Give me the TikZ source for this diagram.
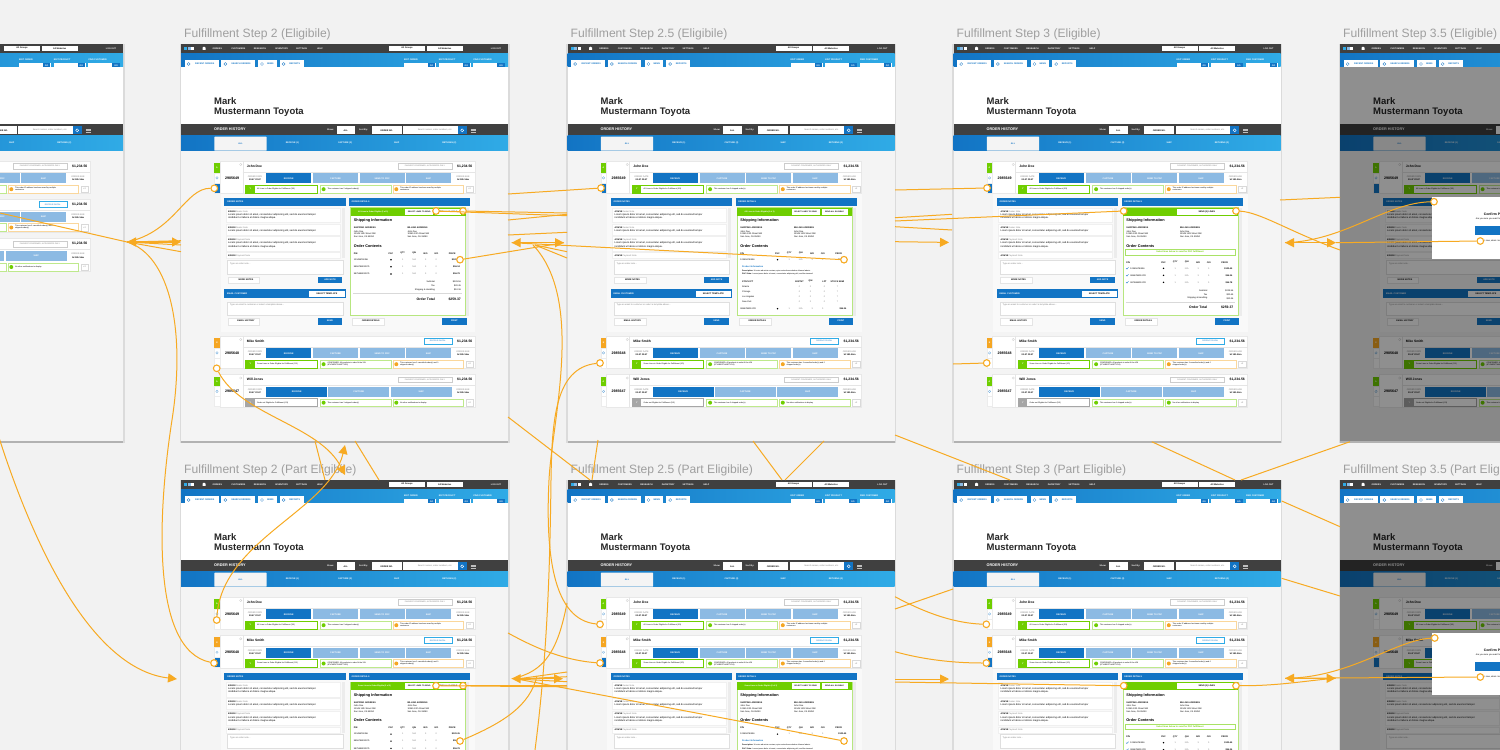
\documentclass[tikz,border=0pt]{standalone}
\usepackage{fontspec}
\setmainfont{Liberation Sans}
\usetikzlibrary{arrows.meta}

\definecolor{bluedk}{HTML}{1274C4}
\definecolor{bluelt}{HTML}{30ABE6}
\definecolor{bluesoft}{HTML}{8CBAE3}
\definecolor{barblack}{HTML}{404040}
\definecolor{bodygray}{HTML}{F4F4F4}
\definecolor{pagegray}{HTML}{F2F2F2}
\definecolor{panelgray}{HTML}{F9F9F9}
\definecolor{grn}{HTML}{6FCE00}
\definecolor{org}{HTML}{F5A623}
\definecolor{lnkor}{HTML}{F7AA22}

\newcommand{\fa}{\fontsize{2.2}{2.9}\selectfont}
\newcommand{\fb}{\fontsize{3.4}{4}\selectfont}
\newcommand{\fc}{\fontsize{3.8}{5}\selectfont}
\newcommand{\fd}{\fontsize{1.9}{2}\selectfont}
\newcommand{\lorema}{Lorem ipsum dolor sit amet, consectetur adipiscing elit, sed do eiusmod tempor}
\newcommand{\loremb}{incididunt ut labore et dolore magna aliqua.}

\newcommand{\btn}[7]{\node[btnb,#6,minimum width=#4pt,minimum height=#5pt,anchor=north west] (#1) at (#2,#3) {#7};}

\newcommand{\appframe}{%
  \fill[gray!28] (-1.5,-.5) rectangle (328.5,398.5);
  \fill[gray!60] (0,397) rectangle (327,398.5);
  \fill[bodygray] (0,0) rectangle (327,397);
  \btn{top}{0}{0}{327}{9.5}{fill=barblack}{}
  \foreach \x/\c [count=\i] in {3/bluelt,6.6/bluesoft,10.2/white}{
    \btn{lg\i}{\x}{3}{3.2}{3}{fill=\c}{}
  }
  \fill[white] (21.5,5.8) -- (21.5,3.6) -- (23,2.6) -- (24.5,3.6) -- (24.5,5.8) -- cycle;
  \foreach \x/\n [count=\i] in {36.3/ORDERS,57.3/CUSTOMERS,79/RESEARCH,100.7/INVENTORY,120.7/SETTINGS,139/HELP}
    \node[tc,white] (nav\i) at (\x,4.6) {\bfseries\n};
  \btn{grp}{208}{1.7}{36}{5.4}{fill=white}{\bfseries All Groups}
  \btn{web}{245.7}{1.7}{36}{5.4}{fill=white}{\bfseries All Websites}
  \node[tc,white] (out) at (315,4.6) {\bfseries LOG OUT};
  \btn{bar}{0}{9.5}{327}{13}{left color=bluedk,right color=bluelt}{}
  \foreach \x/\w/\n [count=\i] in {3.7/34/RECENT ORDERS,40.3/33.4/SEARCH ORDERS,77/18.7/NEWS,98.7/24/REPORTS}{
    \btn{qk\i}{\x}{16}{\w}{8}{fill=white,text=bluedk}{\hspace*{6pt}\bfseries\n}
    \draw[bluedk,line width=.3pt] (\x+4,20) circle (1.5);
  }
  \foreach \x/\n [count=\i] in {223/EDIT ORDER,257.7/EDIT PRODUCT,292.3/FIND CUSTOMER}{
    \node[tw,white] (fl\i) at (\x,15.6) {\bfseries\n};
    \btn{fi\i}{\x}{18.7}{32}{5.4}{fill=white}{}
    \btn{fg\i}{\x+24}{19.3}{7.4}{4.2}{fill=bluedk,text=white}{\bfseries GO}
  }
  \fill[white] (0,22.5) rectangle (327,80);
  \node[tw,text=black!85,font=\fontsize{9.5}{10}\selectfont] (dealer) at (33,62.7) {\bfseries Mark\\\bfseries Mustermann Toyota};
  \btn{hist}{0}{80}{327}{11.5}{fill=barblack}{}
  \node[tw,white,font=\fontsize{3.8}{4}\selectfont] (histl) at (33,85.5) {\bfseries ORDER HISTORY};
  \node[tw,white] (shw) at (146,85.5) {\bfseries Show:};
  \btn{shwb}{155.7}{82.3}{18.3}{8}{fill=white}{\bfseries ALL}
  \node[tw,white] (srt) at (178,85.5) {\bfseries Sort By:};
  \btn{srtb}{190.7}{82.3}{30}{8}{fill=white}{\bfseries ORDER NO.}
  \btn{srch}{222.3}{82.3}{63.4}{8}{fill=white,text=gray}{Search names, order numbers, etc.}
  \btn{srgo}{276.7}{82.3}{9}{8}{fill=bluedk}{}
  \draw[white,line width=.4pt] (281.2,86.3) circle (1.5);
  \foreach \y in {84.8,86.3,87.8}
    \draw[gray!50,line width=.5pt] (289.5,\y) -- (294.5,\y);
  \btn{tabs}{0}{91.5}{327}{15}{left color=bluedk,right color=bluelt}{}
  \btn{taball}{33.3}{92.7}{52.4}{14}{fill=bodygray,text=bluedk,rounded corners=.6pt}{\bfseries ALL}
  \foreach \x/\n [count=\i] in {111.3/RECEIVE (1),164/CAPTURE (2),215.7/SHIP,268.3/RETURNS (2)}
    \node[tc,white] (tb\i) at (\x,98.6) {\bfseries\n};
}

\newcommand{\screen}[5]{%
  \begin{scope}[shift={(#2,#3)},name prefix=#1-]
    \appframe
    \node[steplab] (lab) at (3,-10) {#4};
    #5
  \end{scope}
}

\newcommand{\rowbase}[7]{%
  \btn{#1card}{38.7}{0}{255.3}{32.8}{fill=white,draw=gray!18,line width=.3pt}{}
  \btn{#1tabA}{33.3}{2.3}{5.4}{10}{fill=#2,text=white}{\bfseries #3}
  \btn{#1tabB}{33.3}{12.3}{5.4}{10}{fill=white,draw=gray!15,line width=.2pt}{}
  \draw[bluedk!60,line width=.3pt] (36,17.2) circle (1.2);
  \btn{#1tabC}{33.3}{22.3}{5.4}{10}{fill=#6,draw=gray!15,line width=.2pt}{}
  \node[tc,font=\fontsize{3.6}{4}\selectfont] (#1num) at (51.2,17.3) {\bfseries #4};
  \draw[gray!40,line width=.3pt] (59.7,3.8) circle (1.2);
  \draw[gray!20,line width=.3pt] (61.7,0) -- (61.7,32.8) (61.7,11) -- (294,11);
  \node[tw,font=\fontsize{3.3}{4}\selectfont] (#1name) at (65.7,5.4) {\bfseries #5};
  \node[te,font=\fb] (#1total) at (291.5,5.4) {\bfseries\$1,234.56};
  \node[tc,text=gray] (#1dl) at (74,15.6) {ORDER DATE};
  \node[tc] (#1dv) at (74,18.8) {\bfseries 00:47 22:47};
  \node[tc,text=gray] (#1al) at (282,15.6) {ORDER AGE};
  \node[tc] (#1av) at (282,18.8) {\bfseries 1d 18h 56m};
  \btn{#1more}{284.7}{25.2}{7.6}{6.6}{fill=white,draw=gray!30,line width=.3pt,text=gray}{+2}
  #7
}

\newcommand{\fourbtn}[1]{%
  \foreach \x/\n/\c [count=\i] in {85.3/RECEIVE/bluedk,132/CAPTURE/bluesoft,178.7/SEND TO PDC/bluesoft,225/SHIP/bluesoft}{
    \btn{#1b\i}{\x}{12.6}{45}{10}{fill=\c,text=white}{\bfseries\n}
  }
}

\newcommand{\leadbox}[3]{%
  \btn{#1lead}{64.7}{24.6}{71.6}{7.7}{fill=white,draw=#2,line width=.7pt}{}
  \btn{#1icon}{64.7}{24.6}{9.2}{7.7}{fill=#2,text=white}{\bfseries Y}
  \node[tw,font=\fd] (#1lt) at (76,28.5) {#3};
}

\newcommand{\msgbox}[5]{%
  \btn{#1box}{#2}{24.6}{#3}{7.7}{fill=white,draw=#4!45,line width=.4pt}{}
  \node[dotm,fill=#4] (#1dot) at (#2+3.6,28.5) {};
  \node[tw,font=\fd] (#1txt) at (#2+7.3,28.5) {#5};
}

\newcommand{\johnrow}[3]{%
  \begin{scope}[shift={(0,#2)}]
    \rowbase{#1}{grn}{A}{2985649}{John Doe}{#3}{%
      \btn{#1chip}{217}{2.6}{53.7}{5.6}{fill=white,draw=gray!40,line width=.3pt,text=gray,font=\fd}{PAYMENT CONFIRMED, AUTHORIZED ONLY}
      \fourbtn{#1}
      \leadbox{#1}{grn}{All Lines in Order Eligible for Fulfillment (3/3)}
      \msgbox{#1m}{139}{70.7}{grn}{This customer has 2 shipped order(s)}
      \msgbox{#1n}{211.7}{70.6}{org}{This order IP address has been used by multiple\\customers.}
    }
  \end{scope}
}

\newcommand{\mikerow}[3]{%
  \begin{scope}[shift={(0,#2)}]
    \rowbase{#1}{org}{E}{2985648}{Mike Smith}{#3}{%
      \btn{#1chip}{243}{2.6}{27.7}{5.6}{fill=white,draw=bluelt,line width=.4pt,text=bluedk,font=\fd}{RECEIVE PAYPAL}
      \fourbtn{#1}
      \leadbox{#1}{grn}{Some Lines in Order Eligible for Fulfillment (2/3)}
      \msgbox{#1m}{139}{70.7}{grn}{CONFIRMED: All products in order fit the VIN\\(87VNBDF7HA8F7YD6)}
      \msgbox{#1n}{211.7}{70.6}{org}{This customer has 1 cancelled order(s) and 0\\shipped order(s)}
    }
  \end{scope}
}

\newcommand{\willrow}[2]{%
  \begin{scope}[shift={(0,#2)}]
    \rowbase{#1}{grn}{A}{2985647}{Will Jones}{white}{%
      \btn{#1chip}{217}{2.6}{53.7}{5.6}{fill=white,draw=gray!40,line width=.3pt,text=gray,font=\fd}{PAYMENT CONFIRMED, AUTHORIZED ONLY}
      \foreach \x/\n/\c [count=\i] in {85.3/RECEIVE/bluedk,147.3/CAPTURE/bluesoft,209.7/SHIP/bluesoft}{
        \btn{#1b\i}{\x}{12.6}{61}{10}{fill=\c,text=white}{\bfseries\n}
      }
      \leadbox{#1}{gray!70}{Order not Eligible for Fulfillment (0/3)}
      \msgbox{#1m}{139}{70.7}{grn}{This customer has 1 shipped order(s)}
      \msgbox{#1n}{211.7}{70.6}{grn}{No other notifications to display}
    }
  \end{scope}
}

\newcommand{\linerow}[4]{%
  \node[tw] (#1pn) at (172.7,#2) {#3};
  \node[dotm,fill=black,minimum size=1.6pt] (#1psc) at (210,#2) {};
  \foreach \x/\n [count=\i] in {221.7/1,233.3/N{/}A,244.7/3,255.3/0}
    \node[tc,text=gray] (#1v\i) at (\x,#2) {\n};
  \node[te] (#1pr) at (279,#2) {\bfseries #4};
}

\newcommand{\linehead}[1]{%
  \node[tw] (hpn) at (172.7,#1) {\bfseries P/N};
  \foreach \x/\n [count=\i] in {210/PSC,221.7/QTY,233.3/{Q/H},244.7/{B/O},255.3/{O/O},271.3/PRICE}
    \node[tc] (hc\i) at (\x,#1) {\bfseries\n};
}

\newcommand{\ordertotals}[1]{%
  \foreach \d/\n/\v [count=\i] in {0/Subtotal/\$229.56,4/Tax/\$20.45,8/Shipping \& Handling/\$10.36}{
    \node[te] (sl\i) at (254,#1+\d) {\n};
    \node[te] (sv\i) at (280,#1+\d) {\v};
  }
  \draw[gray!30,line width=.3pt] (172,#1+11.6) -- (281,#1+11.6);
  \node[te,font=\fb] (otl) at (254,#1+17.4) {\bfseries Order Total};
  \node[te,font=\fb] (otv) at (280,#1+17.4) {\bfseries\$259.37};
}

\newcommand{\addresses}{%
  \node[tw,font=\fc] (ship) at (172.7,176.7) {\bfseries Shipping Information};
  \foreach \x/\n [count=\i] in {172.7/SHIPPING ADDRESS,226.3/BILLING ADDRESS}{
    \node[tw] (adh\i) at (\x,184) {\bfseries\n};
    \node[tw,anchor=north west] (adt\i) at (\x,186.3) {John Doe\\12345 13th Street NW\\San Jose, CA 95050};
  }
  \node[tw,font=\fc] (cont) at (172.7,201.7) {\bfseries Order Contents};
}

\newcommand{\orderpanel}[2]{%
  \btn{pan}{39.7}{150}{254.3}{137.7}{fill=panelgray}{}
  \btn{nth}{43.3}{154.3}{121.4}{7.7}{fill=bluedk}{}
  \node[tw,white] (ntl) at (46,158.2) {\bfseries ORDER NOTES};
  \btn{nts}{160.5}{163.7}{3.4}{50.6}{fill=gray!15}{}
  \foreach \y/\h/\k/\b [count=\i] in {163.7/14.6/Dealer Note/{\lorema\\\loremb},180/10.7/Dealer Note/{\lorema},192.3/14.4/Payment Note/{\lorema\\\loremb},208.3/6/Payment Note/{}}{
    \btn{nc\i}{45}{\y}{114}{\h}{fill=white,draw=gray!12,line width=.3pt}{}
    \node[tw] (nh\i) at (47,\y+3.6) {\bfseries 4/26/18 \mdseries\color{gray}\k};
    \node[tw,anchor=north west,font=\fontsize{2.5}{3.3}\selectfont] (nb\i) at (47,\y+5.4) {\b};
  }
  \btn{nin}{46.3}{216}{115.4}{14}{fill=white,draw=gray!25,line width=.3pt}{}
  \node[tw,text=gray] (nph) at (49,219.5) {Type an order note...};
  \btn{nmr}{46.7}{232.7}{31.6}{6.6}{fill=white,draw=gray!20,line width=.3pt}{\hspace*{5pt}\bfseries MORE NOTES}
  \btn{nad}{136.7}{232.7}{24.6}{6.6}{fill=bluedk,text=white}{\bfseries ADD NOTE}
  \btn{emh}{43.3}{245.3}{121.4}{9}{fill=bluedk}{}
  \node[tw,white] (eml) at (46,249.8) {\bfseries EMAIL CUSTOMER};
  \btn{emt}{128}{246.6}{35.6}{6.6}{fill=white}{\bfseries SELECT TEMPLATE}
  \btn{emi}{46.3}{257.7}{115.4}{13.3}{fill=white,draw=gray!25,line width=.3pt}{}
  \node[tw,text=gray] (emp) at (49,261.3) {Type an email to customer or select a template above...};
  \btn{emo}{46.7}{273.7}{31.6}{7}{fill=white,draw=gray!20,line width=.3pt}{\hspace*{5pt}\bfseries EMAIL HISTORY}
  \btn{ems}{136.7}{273.7}{24.6}{7}{fill=bluedk,text=white}{\bfseries SEND}
  \btn{dth}{168}{154.3}{121}{7.7}{fill=bluedk}{}
  \node[tw,white] (dtl) at (170.5,158.2) {\bfseries ORDER DETAILS};
  \btn{dts}{285}{163.7}{3.4}{108}{fill=gray!15}{}
  \btn{dbox}{169.7}{163.7}{115}{107.3}{fill=white,draw=grn!50,line width=.5pt}{}
  \btn{dgb}{169.7}{163.7}{115}{8}{fill=grn}{}
  \addresses
  \ifnum#1=3
    \btn{dsend}{223}{164.7}{60.5}{6}{fill=white}{\bfseries SEND (3) LINES}
    \btn{dsel}{171.5}{205.3}{110}{5.8}{fill=white,draw=grn!60,line width=.3pt,text=grn}{\bfseries Select lines below to send for PDC fulfillment}
    \linehead{218.3}
    \linerow{ra}{224.3}{\hspace*{4pt}12345678/456}{\$120.45}
    \linerow{rb}{231.3}{\hspace*{4pt}98567B4012CD}{\$56.34}
    \linerow{rc}{238.3}{\hspace*{4pt}98756B4012CD}{\$56.78}
    \ordertotals{246.3}
    \foreach \y in {224.3,231.3,238.3}
      \draw[bluedk,line width=.4pt] (172.6,\y) -- (173.4,\y+.8) -- (175,\y-1);
  \else
    \node[tw,white,font=\fd] (dgt) at (177,167.7) {\bfseries #2};
    \btn{dsl}{224}{164.7}{28.3}{6}{fill=white,font=\fd}{\bfseries SELECT LINES TO SEND}
    \btn{dsa}{254}{164.7}{26}{6}{fill=white,font=\fd}{\bfseries SEND ALL ELIGIBLE}
    \linehead{209.3}
    \linerow{ra}{215.7}{12345678/456}{\$120.45}
    \ifnum#1=1
      \linerow{rb}{222.7}{98567B4012CD}{\$56.34}
      \linerow{rc}{230}{98756B4012CD}{\$56.78}
      \ordertotals{237.7}
    \else
      \node[tw,text=bluedk] (pit) at (174.5,222.3) {\bfseries Product Information};
      \node[tw,font=\fd] (pid) at (174.5,226.7) {\bfseries Description: \mdseries Ut enim ad minim veniam, quis nostrud exercitation ullamco laboris};
      \node[tw,font=\fd] (pip) at (174.5,230.3) {\bfseries PAC State: \mdseries Lorem ipsum dolor sit amet, consectetur adipiscing elit, sed do eiusmod};
      \node[tw] (sth) at (174.5,237.3) {\bfseries STOCK PT};
      \foreach \x/\n [count=\i] in {232/{BO/TNT},243/{Q/H},257/LPT,270/STOCK SEMI}
        \node[tc] (shc\i) at (\x,237.3) {\bfseries\n};
      \foreach \y/\n [count=\i] in {242.7/Atlanta,247.7/Chicago,252.7/Los Angeles,257.7/New York}{
        \node[tw] (sr\i) at (174.5,\y) {\n};
        \foreach \x/\v [count=\j] in {232/0,243/2,257/0,270/7}
          \node[tc,text=gray] (sv\i\j) at (\x,\y) {\v};
      }
      \linerow{rb}{264.7}{98567B4012CD}{\$56.34}
    \fi
  \fi
  \btn{dod}{171.3}{273.7}{32}{7}{fill=white,draw=gray!20,line width=.3pt}{\hspace*{5pt}\bfseries ORDER DETAILS}
  \btn{dpr}{261.3}{273.7}{24.4}{7}{fill=bluedk,text=white}{\bfseries PRINT}
}

\newcommand{\confirmbox}{%
  \fill[black,opacity=.44] (0,22.5) rectangle (327,397);
  \btn{mod}{91.7}{152.7}{144}{62}{fill=white}{}
  \node[tc,font=\fontsize{3.4}{4}\selectfont] (modt) at (163.5,170.3) {\bfseries Confirm PDC Fulfillment};
  \node[tc] (mods) at (163.5,175) {Are you sure you want to send these lines for fulfillment?};
  \btn{modb}{135}{181.7}{57}{9.3}{fill=bluedk,text=white}{\bfseries SEND}
  \node[tw] (modc) at (144.5,197) {I now, when I send lines};
}

\begin{document}
\begin{tikzpicture}[x=1pt,y=-1pt,
        btnb/.style={rectangle, inner sep=0pt, outer sep=0pt, font=\fa},
        tw/.style={inner sep=0pt, anchor=west, align=left, font=\fa},
        tc/.style={inner sep=0pt, font=\fa},
        te/.style={inner sep=0pt, anchor=east, font=\fa},
        dotm/.style={circle, inner sep=0pt, minimum size=4pt},
        steplab/.style={inner sep=0pt, anchor=west, text=gray!75, font=\fontsize{12.1}{13}\selectfont},
        hot/.style={circle, draw=lnkor, line width=1.1pt, fill=white, inner sep=0pt, minimum size=6.6pt},
        lnk/.style={draw=lnkor, line width=1pt},
        arr/.style={lnk, -{Triangle[length=9pt,width=9pt]}},
        arrb/.style={lnk, line width=1.4pt, {Triangle[length=9pt,width=9pt]}-{Triangle[length=9pt,width=9pt]}}]
      \useasboundingbox (0,0) rectangle (1500,750);
      \clip (0,0) rectangle (1500,750);
      \fill[pagegray] (0,0) rectangle (1500,750);
      \screen{sz}{-204}{44}{}{\johnrow{a}{116.7}{white}\mikerow{b}{155}{white}\willrow{c}{194.5}}
      \screen{sa}{181}{44}{Fulfillment Step 2 (Eligibile)}{\orderpanel{1}{All Lines in Order Eligible (3 of 3)}\johnrow{a}{116.7}{bluedk}\mikerow{b}{291.7}{white}\willrow{c}{330.2}}
      \screen{sb}{567.5}{44}{Fulfillment Step 2.5 (Eligibile)}{\orderpanel{2}{All Lines in Order Eligible (3 of 3)}\johnrow{a}{116.7}{bluedk}\mikerow{b}{291.7}{white}\willrow{c}{330.2}}
      \screen{sc}{953.5}{44}{Fulfillment Step 3 (Eligible)}{\orderpanel{3}{}\johnrow{a}{116.7}{bluedk}\mikerow{b}{291.7}{white}\willrow{c}{330.2}}
      \screen{sd}{1340}{44}{Fulfillment Step 3.5 (Eligible)}{\orderpanel{3}{}\johnrow{a}{116.7}{bluedk}\mikerow{b}{291.7}{white}\willrow{c}{330.2}\confirmbox}
      \screen{pa}{181}{480}{Fulfillment Step 2 (Part Eligibile)}{\begin{scope}[shift={(0,38.4)}]\orderpanel{1}{Some Lines in Order Eligible (2 of 3)}\end{scope}\johnrow{a}{116.7}{white}\mikerow{b}{155}{bluedk}}
      \screen{pb}{567.5}{480}{Fulfillment Step 2.5 (Part Eligibile)}{\begin{scope}[shift={(0,38.4)}]\orderpanel{2}{Some Lines in Order Eligible (2 of 3)}\end{scope}\johnrow{a}{116.7}{white}\mikerow{b}{155}{bluedk}}
      \screen{pc}{953.5}{480}{Fulfillment Step 3 (Part Eligible)}{\begin{scope}[shift={(0,38.4)}]\orderpanel{3}{}\end{scope}\johnrow{a}{116.7}{white}\mikerow{b}{155}{bluedk}}
      \screen{pd}{1340}{480}{Fulfillment Step 3.5 (Part Eligible)}{\begin{scope}[shift={(0,38.4)}]\orderpanel{3}{}\end{scope}\johnrow{a}{116.7}{white}\mikerow{b}{155}{bluedk}\confirmbox}
      \foreach \n/\x/\y in {ha1/214.3/188.3,ha2/436/211,ha3/463/211,ha4/460/259.7,ha5/216.7/368.3,
          hb1/601/188,hb2/844/259.7,hb3/600/363,hc1/987/188,hc2/1123.7/211,hc3/1236/211,hc4/986.7/363,
          hd1/1434/201.7,hd2/1480.3/241,pa1/216.7/620,pa2/214/663,pa3/436/685.7,pa4/463/685.7,pa5/460/741,
          pb1/600/624.3,pb2/600/663,pb3/844/741,pc1/986.3/624.3,pc2/986.3/663,pc3/1123.7/685.7,pc4/1236/685.7,
          pd1/1434.7/638,pd2/1480.3/677}
        \node[hot] (\n) at (\x,\y) {};
      \foreach \n/\x/\y in {tipa/127/242,tipb/181/242,tipc/511.7/242.7,tipd/564/242.7,tipe/949/242.4,tipf/1285/242.7,tipg/1336/242.7,
          tiph/177/679,tipi/511.7/678.7,tipj/563/678.7,tipk/949/679,tipl/1285/678.3,tipm/1335.7/678.3,tipu/345/445,tipv/345/475,
          fa/181/240.7,fb/181/245,fc/181/251.7,fd/0/213,fe/567/215.7,ff/567/213,fg/508/220,fh/567/214.3,fi/508/235,fj/567/232.3,
          fk/508/194,fl/535/245,fm/567/251.7,fn/567/258,fo/895/190,fp/895/217.7,fq/952/214.3,fr/895/221,fs/895/226.7,ft/952/230,
          fu/895/241.7,fv/953/364,fw/1280/200,fx/1340/197.3,fy/1340/250,
          ga/315/441,gb/325/480,gc/355/441,gd/379/480,ge/508/417,gf/590/480,gg/598/440,gh/592/480,gi/753/441,gj/782/480,gk/824/441,gl/785/480,
          gm/895/435,gn/1010/480,go/1151.7/441.7,gp/1235/480,gq/1350/441.7,gr/1241/480,gs/1281.7/501,gt/1340/526.7,gu/1281.7/578.3,gv/1340/596,gw/895/609,gx/953/589,
          ja/172/420,jb/-5/425,jc/551/480,jd/535/750,je/549/480,jf/533/245,jg/567/603,jh/508/633,ji/537/676,jj/567/685.7,jk/567/686.8,
          jl/517/679,jm/567/672,jn/567/676.7,jo/567/681.7,jp/895/682,jq/895/679,jr/895/596.7,js/895/651.7}
        \coordinate (\n) at (\x,\y);
      \foreach \a/\b in {fa/tipa,fb/tipa,fc/tipa,fd/tipa,ha2/ha3,ha2/fe,ha3/ff,fg/fh,fi/fj,hb1/fk,ha4/tipd,hb2/tipc,fl/fm,fl/fn,
          hc1/fo,fp/fq,hc2/fr,fs/ft,hc4/fv,fw/fx,hd2/tipg,ga/gb,gc/gd,ge/gf,gg/gh,gi/gj,gk/gl,gm/gn,go/gp,gq/gr,gs/gt,gu/gv,gw/gx,
          pa4/jj,pa3/jk,pb3/jl,jl/jm,jl/jn,jl/jo,jp/pc3,pd2/tipl}
        \draw[lnk] (\a) -- (\b);
      \draw[arrb] (tipa) -- (tipb);
      \draw[arrb] (tipc) -- (tipd);
      \draw[arrb] (tipf) -- (tipg);
      \draw[arrb] (tipi) -- (tipj);
      \draw[arrb] (tipl) -- (tipm);
      \draw[arr] (fu) -- (tipe);
      \draw[arr] (jq) -- (tipk);
      \draw[lnk] (ha1) .. controls (185,188) and (175,232) .. (tipa);
      \draw[arr] (ha5) .. controls (240,415) and (320,425) .. (tipv);
      \draw[arr] (pa1) .. controls (222,540) and (330,510) .. (tipu);
      \draw[lnk] (pa2) .. controls (150,650) and (158,510) .. (ja) .. controls (186,330) and (170,255) .. (tipa);
      \draw[arr] (jb) .. controls (40,570) and (100,670) .. (tiph);
      \draw[lnk] (hb3) .. controls (555,368) and (552,420) .. (jc) .. controls (550,560) and (548,650) .. (jd);
      \draw[lnk] (pb1) .. controls (555,620) and (545,560) .. (je) .. controls (552,420) and (585,300) .. (jf);
      \draw[lnk] (jg) .. controls (558,650) and (545,672) .. (tipi);
      \draw[lnk] (pb2) .. controls (560,660) and (530,645) .. (jh);
      \draw[lnk] (pa5) .. controls (505,722) and (530,705) .. (ji);
      \draw[lnk] (hc3) .. controls (1260,212) and (1290,232) .. (fy);
      \draw[lnk] (hd1) .. controls (1385,203) and (1345,241) .. (tipf);
      \draw[lnk] (jr) .. controls (920,610) and (950,623) .. (pc1);
      \draw[lnk] (js) .. controls (925,660) and (955,663) .. (pc2);
      \draw[lnk] (pc4) .. controls (1280,686) and (1310,680) .. (tipm);
      \draw[lnk] (pd1) .. controls (1395,640) and (1350,678) .. (tipl);
    \end{tikzpicture}
\end{document}
